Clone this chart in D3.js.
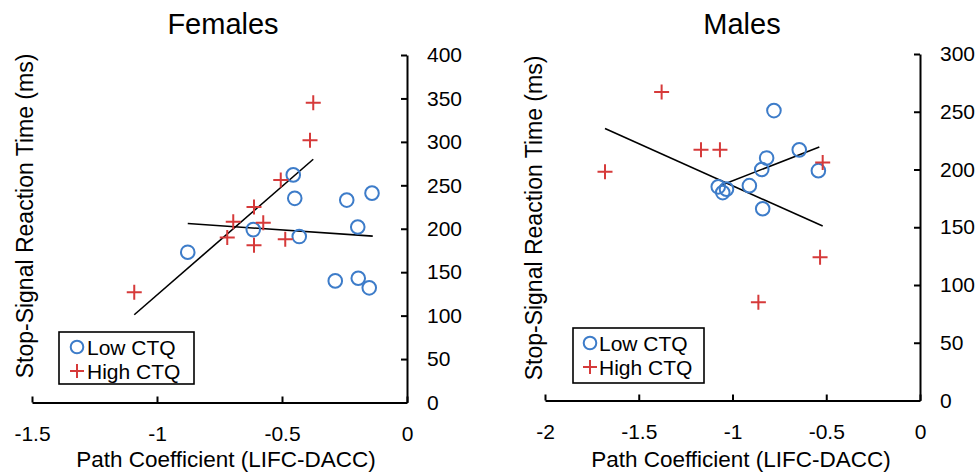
<!DOCTYPE html>
<html>
<head>
<meta charset="utf-8">
<script src="https://cdn.jsdelivr.net/npm/d3@7"></script>
<style>
  html, body { margin: 0; padding: 0; background: #fff; }
  svg { display: block; }
  text { font-family: "Liberation Sans", Arial, sans-serif; fill: #000; }
</style>
</head>
<body>
<svg id="chart" width="977" height="472"></svg>
<script>
// ---------- DATA ----------
const seriesNames = ["Low CTQ", "High CTQ"];

// Females
const femLowX  = [-0.877, -0.615, -0.455, -0.449, -0.431, -0.241, -0.140, -0.197, -0.287, -0.195, -0.151];
const femLowY  = [173, 199, 262, 235, 191, 233, 241, 202, 140, 143, 132];
const femHighX = [-1.091, -0.719, -0.695, -0.612, -0.612, -0.575, -0.505, -0.487, -0.388, -0.375];
const femHighY = [127, 190, 208, 225, 181, 207, 256, 188, 302, 345];
const femLowFitX  = [-0.877, -0.137];
const femLowFitY  = [206, 191.5];
const femHighFitX = [-1.091, -0.375];
const femHighFitY = [101, 280];

// Males
const maleLowX  = [-0.779, -0.644, -0.818, -0.844, -0.542, -0.910, -0.839, -1.076, -1.052, -1.032];
const maleLowY  = [251, 217, 210, 200, 199, 186, 166, 185, 180, 183];
const maleHighX = [-1.378, -1.680, -1.168, -1.067, -0.519, -0.533, -0.862];
const maleHighY = [267, 198, 217, 217, 206, 124, 85];
const maleLowFitX  = [-1.067, -0.537];
const maleLowFitY  = [186, 219.5];
const maleHighFitX = [-1.680, -0.519];
const maleHighFitY = [235.5, 151];

// Ticks
const femXTicks  = [-1.5, -1, -0.5, 0];
const femYTicks  = [0, 50, 100, 150, 200, 250, 300, 350, 400];
const maleXTicks = [-2, -1.5, -1, -0.5, 0];
const maleYTicks = [0, 50, 100, 150, 200, 250, 300];

const titles = ["Females", "Males"];
const xLabel = "Path Coefficient (LIFC-DACC)";
const yLabel = "Stop-Signal Reaction Time (ms)";

// ---------- STYLE ----------
const blue = "#3d7cc9";
const red  = "#d63a3a";

const svg = d3.select("#chart");

const panels = [
  {
    title: titles[0],
    x0: 32, x1: 407, y0: 402.5, y1: 55,
    xDomain: [-1.5, 0], yDomain: [0, 400],
    xTicks: femXTicks, yTicks: femYTicks,
    low: femLowX.map((x, i) => ({x, y: femLowY[i]})),
    high: femHighX.map((x, i) => ({x, y: femHighY[i]})),
    lowFit: femLowFitX.map((x, i) => ({x, y: femLowFitY[i]})),
    highFit: femHighFitX.map((x, i) => ({x, y: femHighFitY[i]})),
    titleX: 223, xLabelX: 226, yLabelX: 33, yLabelY: 216,
    legend: {x: 59, y: 332, w: 135, h: 52, markX: 77, textX: 87}
  },
  {
    title: titles[1],
    x0: 545, x1: 920, y0: 400.5, y1: 54,
    xDomain: [-2, 0], yDomain: [0, 300],
    xTicks: maleXTicks, yTicks: maleYTicks,
    low: maleLowX.map((x, i) => ({x, y: maleLowY[i]})),
    high: maleHighX.map((x, i) => ({x, y: maleHighY[i]})),
    lowFit: maleLowFitX.map((x, i) => ({x, y: maleLowFitY[i]})),
    highFit: maleHighFitX.map((x, i) => ({x, y: maleHighFitY[i]})),
    titleX: 742, xLabelX: 741, yLabelX: 542, yLabelY: 218,
    legend: {x: 573, y: 328, w: 131, h: 55, markX: 590, textX: 599}
  }
];

function plus(sel, cx, cy, s) {
  sel.append("path")
    .attr("d", `M${cx - s},${cy}H${cx + s}M${cx},${cy - s}V${cy + s}`)
    .attr("stroke", red).attr("stroke-width", 2).attr("fill", "none");
}

panels.forEach(p => {
  const g = svg.append("g");
  const x = d3.scaleLinear().domain(p.xDomain).range([p.x0, p.x1]);
  const y = d3.scaleLinear().domain(p.yDomain).range([p.y0, p.y1]);

  // title
  g.append("text").attr("x", p.titleX).attr("y", 34)
    .attr("text-anchor", "middle").style("font-size", "29px").text(p.title);

  // x axis
  const xa = g.append("g").attr("transform", `translate(0,${p.y0})`)
    .call(d3.axisBottom(x).tickValues(p.xTicks).tickFormat(d => String(d))
      .tickSize(-6).tickSizeOuter(0).tickPadding(23.5));
  // y axis (right side)
  const ya = g.append("g").attr("transform", `translate(${p.x1},0)`)
    .call(d3.axisRight(y).tickValues(p.yTicks).tickFormat(d => String(d))
      .tickSize(-6).tickSizeOuter(0).tickPadding(20));
  [xa, ya].forEach(a => {
    a.select(".domain").attr("stroke", "#000").attr("stroke-width", 2);
    a.selectAll(".tick line").attr("stroke", "#000").attr("stroke-width", 2);
    a.selectAll(".tick text").style("font-size", "21px").attr("fill", "#000")
      .style("font-family", '"Liberation Sans", Arial, sans-serif');
  });

  // axis labels
  g.append("text").attr("x", p.xLabelX).attr("y", 467)
    .attr("text-anchor", "middle").style("font-size", "22.5px").text(xLabel);
  g.append("text")
    .attr("transform", `translate(${p.yLabelX},${p.yLabelY}) rotate(-90)`)
    .attr("text-anchor", "middle").style("font-size", "23px").text(yLabel);

  // fit lines
  const line = d3.line().x(d => x(d.x)).y(d => y(d.y));
  g.append("path").datum(p.highFit).attr("d", line)
    .attr("stroke", "#000").attr("stroke-width", 1.6).attr("fill", "none");
  g.append("path").datum(p.lowFit).attr("d", line)
    .attr("stroke", "#000").attr("stroke-width", 1.6).attr("fill", "none");

  // low CTQ circles
  g.selectAll(null).data(p.low).enter().append("circle")
    .attr("cx", d => x(d.x)).attr("cy", d => y(d.y)).attr("r", 6.8)
    .attr("fill", "none").attr("stroke", blue).attr("stroke-width", 2);

  // high CTQ plus
  p.high.forEach(d => plus(g, x(d.x), y(d.y), 7.5));

  // legend
  const L = p.legend;
  g.append("rect").attr("x", L.x).attr("y", L.y).attr("width", L.w).attr("height", L.h)
    .attr("fill", "#fff").attr("stroke", "#000").attr("stroke-width", 1.6);
  const r1 = L.y + 15, r2 = L.y + 39;
  g.append("circle").attr("cx", L.markX).attr("cy", r1).attr("r", 6.3)
    .attr("fill", "none").attr("stroke", blue).attr("stroke-width", 2);
  g.append("text").attr("x", L.textX).attr("y", r1 + 7.5).style("font-size", "21px").text(seriesNames[0]);
  plus(g, L.markX, r2, 7);
  g.append("text").attr("x", L.textX).attr("y", r2 + 7.5).style("font-size", "21px").text(seriesNames[1]);
});
</script>
</body>
</html>
